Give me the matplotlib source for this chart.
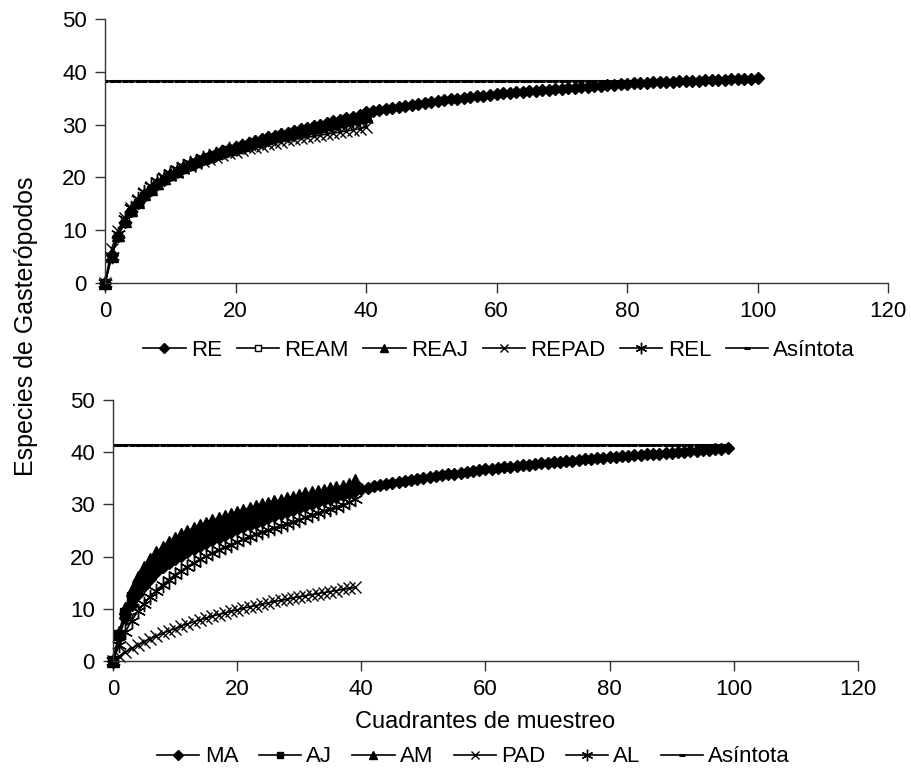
import matplotlib
matplotlib.use("Agg")
import matplotlib.pyplot as plt

plt.rcParams['font.family'] = ['Liberation Sans', 'DejaVu Sans']

# ---- datos panel superior (x = 0..100 cuadrantes) ----
x_sup = list(range(0, 101))
re = [0, 5.3, 9.0, 11.6, 13.6, 15.2, 16.5, 17.7, 18.7, 19.6, 20.4, 21.1, 21.8, 22.4, 22.9,
      23.4, 23.9, 24.4, 25.0, 25.4, 25.8, 26.2, 26.6, 26.9, 27.3, 27.6, 27.9, 28.2, 28.5,
      28.8, 29.1, 29.4, 29.7, 30.0, 30.3, 30.6, 30.9, 31.2, 31.5, 31.9, 32.3, 32.6, 32.8,
      33.0, 33.2, 33.4, 33.6, 33.8, 33.9, 34.1, 34.3, 34.5, 34.6, 34.8, 34.9, 35.1, 35.2,
      35.4, 35.5, 35.6, 35.8, 35.9, 36.0, 36.1, 36.2, 36.3, 36.4, 36.5, 36.6, 36.7, 36.8,
      36.9, 37.0, 37.1, 37.2, 37.3, 37.4, 37.5, 37.5, 37.6, 37.7, 37.8, 37.8, 37.9, 38.0,
      38.0, 38.1, 38.1, 38.2, 38.2, 38.3, 38.3, 38.4, 38.4, 38.5, 38.5, 38.6, 38.6, 38.7,
      38.7, 38.8]
ream = [0, 5.0, 8.8, 11.5, 13.5, 15.1, 16.4, 17.6, 18.6, 19.5, 20.3, 21.0, 21.7, 22.3, 22.8,
        23.3, 23.8, 24.2, 24.6, 25.0, 25.4, 25.8, 26.1, 26.5, 26.8, 27.1, 27.4, 27.7, 28.0,
        28.3, 28.6, 28.9, 29.2, 29.4, 29.7, 30.0, 30.3, 30.5, 30.8, 31.1, 31.3]
reaj = [0, 5.2, 9.1, 11.8, 13.8, 15.4, 16.8, 17.9, 18.9, 19.8, 20.6, 21.3, 22.0, 22.6, 23.1,
        23.6, 24.1, 24.6, 25.0, 25.4, 25.8, 26.2, 26.6, 26.9, 27.3, 27.6, 27.9, 28.2, 28.5,
        28.8, 29.1, 29.4, 29.7, 30.0, 30.3, 30.5, 30.8, 31.1, 31.3, 31.6, 31.9]
repad = [0, 6.5, 9.8, 12.3, 14.2, 15.7, 17.0, 18.1, 19.0, 19.8, 20.5, 21.1, 21.7, 22.2, 22.7,
         23.1, 23.5, 23.9, 24.3, 24.6, 24.9, 25.2, 25.5, 25.8, 26.0, 26.3, 26.5, 26.8, 27.0,
         27.2, 27.4, 27.6, 27.8, 28.0, 28.2, 28.4, 28.6, 28.8, 29.0, 29.2, 29.5]
rel = [0, 5.1, 9.3, 12.2, 14.3, 15.9, 17.2, 18.3, 19.3, 20.1, 20.9, 21.5, 22.1, 22.7, 23.2,
       23.7, 24.1, 24.5, 24.9, 25.3, 25.6, 26.0, 26.3, 26.6, 26.9, 27.2, 27.5, 27.8, 28.0,
       28.3, 28.6, 28.8, 29.1, 29.3, 29.6, 29.8, 30.1, 30.3, 30.5, 30.8, 31.0]
asintota_sup = 38.2

# ---- datos panel inferior (x = 0..99 cuadrantes) ----
x_inf = list(range(0, 100))
ma = [0, 4.6, 8.2, 10.8, 12.8, 14.4, 15.8, 17.0, 18.0, 18.8, 19.5, 20.2, 20.8, 21.4, 22.0,
      22.6, 23.1, 23.6, 24.1, 24.7, 25.2, 25.6, 26.0, 26.5, 26.9, 27.3, 27.7, 28.1, 28.5,
      28.9, 29.3, 29.7, 30.1, 30.4, 30.8, 31.1, 31.5, 31.8, 32.2, 32.5, 32.9, 33.2, 33.5,
      33.7, 33.9, 34.1, 34.3, 34.5, 34.7, 34.9, 35.1, 35.3, 35.4, 35.6, 35.8, 35.9, 36.1,
      36.2, 36.4, 36.5, 36.7, 36.8, 37.0, 37.1, 37.2, 37.4, 37.5, 37.6, 37.7, 37.9, 38.0,
      38.1, 38.2, 38.3, 38.4, 38.5, 38.6, 38.7, 38.8, 38.9, 39.0, 39.1, 39.2, 39.3, 39.4,
      39.5, 39.6, 39.6, 39.7, 39.8, 39.9, 40.0, 40.1, 40.2, 40.3, 40.4, 40.5, 40.6, 40.7,
      40.8]
aj = [0, 5.0, 9.2, 12.2, 14.6, 16.3, 17.6, 18.7, 19.6, 20.5, 21.3, 22.0, 22.7, 23.3, 23.9,
      24.4, 24.9, 25.4, 25.9, 26.3, 26.7, 27.1, 27.5, 27.9, 28.2, 28.6, 28.9, 29.3, 29.6,
      29.9, 30.3, 30.6, 30.9, 31.2, 31.5, 31.8, 32.1, 32.4, 32.8, 33.3]
am = [0, 5.5, 10.2, 13.6, 16.1, 18.0, 19.5, 20.8, 21.9, 22.8, 23.6, 24.3, 24.9, 25.5, 26.0,
      26.5, 27.0, 27.4, 27.8, 28.2, 28.6, 29.0, 29.3, 29.7, 30.0, 30.3, 30.6, 30.9, 31.2,
      31.5, 31.8, 32.1, 32.3, 32.6, 32.8, 33.1, 33.3, 33.6, 33.9, 34.6]
pad = [0, 0.9, 1.7, 2.4, 3.1, 3.7, 4.3, 4.8, 5.3, 5.8, 6.2, 6.7, 7.1, 7.5, 7.9, 8.2, 8.6,
       8.9, 9.2, 9.5, 9.8, 10.1, 10.4, 10.6, 10.9, 11.1, 11.4, 11.6, 11.8, 12.1, 12.3, 12.5,
       12.7, 12.9, 13.1, 13.3, 13.5, 13.7, 13.9, 14.1]
al = [0, 3.0, 5.6, 7.7, 9.5, 11.0, 12.3, 13.5, 14.6, 15.6, 16.5, 17.3, 18.1, 18.8, 19.5,
      20.1, 20.7, 21.3, 21.8, 22.3, 22.8, 23.3, 23.8, 24.3, 24.7, 25.1, 25.5, 25.9, 26.3,
      26.7, 27.1, 27.5, 27.9, 28.3, 28.7, 29.1, 29.5, 29.9, 30.4, 31.0]
asintota_inf = 41.3

asterisco = (6, 2, 0)
estilos = {
    'diamante': dict(marker='D', ms=6.5, mfc='black', mec='black'),
    'cuadro_blanco': dict(marker='s', ms=6, mfc='white', mec='black', mew=1),
    'cuadro': dict(marker='s', ms=6.5, mfc='black', mec='black'),
    'triangulo': dict(marker='^', ms=8, mfc='black', mec='black'),
    'equis': dict(marker='x', ms=8.5, mec='black', mew=1),
    'asterisco': dict(marker=asterisco, ms=11, mec='black', mew=1),
    'asintota': dict(marker='_', ms=5, mec='black', mew=2.2),
}

fig = plt.figure(figsize=(9.11, 7.75), dpi=100)
ax1 = fig.add_axes([0.1153, 0.6348, 0.8595, 0.3407])
ax2 = fig.add_axes([0.124, 0.1471, 0.8178, 0.3368])


def dibujar(ax, series, x_asint, y_asint, nombre_asint):
    for xs, ys, nombre, est in series:
        ax.plot(xs[:len(ys)], ys, color='black', lw=1.2, label=nombre,
                clip_on=False, **estilos[est])
    ax.plot(x_asint, [y_asint] * len(x_asint), color='black', lw=1.2,
            label=nombre_asint, **estilos['asintota'])
    ax.set_xlim(0, 120)
    ax.set_ylim(0, 50)
    ax.set_xticks(range(0, 121, 20))
    ax.set_yticks(range(0, 51, 10))
    for s in ['top', 'right']:
        ax.spines[s].set_visible(False)
    for s in ['left', 'bottom']:
        ax.spines[s].set_color('#333333')
        ax.spines[s].set_linewidth(1)
    ax.tick_params(direction='out', length=7, width=1, color='#333333',
                   labelsize=16, pad=6)


dibujar(ax1, [(x_sup, re, 'RE', 'diamante'),
              (x_sup, ream, 'REAM', 'cuadro_blanco'),
              (x_sup, reaj, 'REAJ', 'triangulo'),
              (x_sup, repad, 'REPAD', 'equis'),
              (x_sup, rel, 'REL', 'asterisco')],
        x_sup, asintota_sup, 'Asíntota')

dibujar(ax2, [(x_inf, ma, 'MA', 'diamante'),
              (x_inf, aj, 'AJ', 'cuadro'),
              (x_inf, am, 'AM', 'triangulo'),
              (x_inf, pad, 'PAD', 'equis'),
              (x_inf, al, 'AL', 'asterisco')],
        x_inf, asintota_inf, 'Asíntota')

leg_kw = dict(loc='center', bbox_transform=fig.transFigure, ncol=6, frameon=False,
              fontsize=16, handlelength=1.9, handletextpad=0.25, borderaxespad=0,
              markerscale=0.75)
ax1.legend(bbox_to_anchor=(0.548, 1 - 350 / 775), columnspacing=0.65, **leg_kw)
ax2.legend(bbox_to_anchor=(0.52, 1 - 757 / 775), columnspacing=0.9, **leg_kw)

ax2.set_xlabel('Cuadrantes de muestreo', fontsize=17, labelpad=8)
fig.text(0.028, 1 - 326 / 775, 'Especies de Gasterópodos', rotation=90,
         ha='center', va='center', fontsize=18)

fig.savefig('out.png', dpi=100)
